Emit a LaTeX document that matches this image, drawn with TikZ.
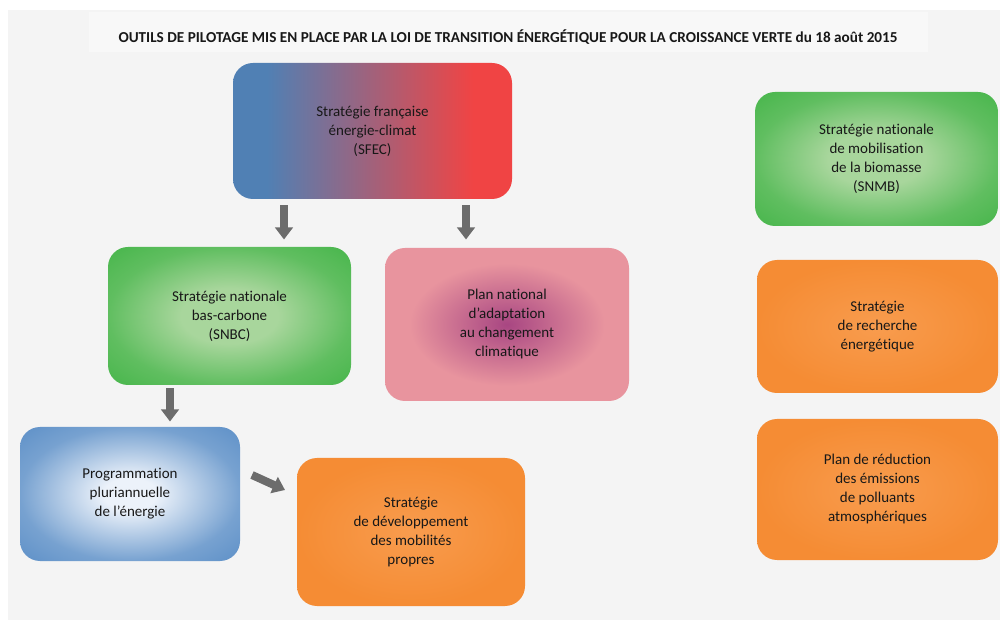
\documentclass[tikz,border=0pt]{standalone}
\usepackage{fontspec}
\setmainfont{Carlito}[Ligatures=NoCommon]
\usetikzlibrary{arrows.meta}

\definecolor{bggray}{RGB}{244,244,244}
\definecolor{txtdark}{RGB}{24,24,24}
\definecolor{arrowgray}{RGB}{108,108,108}
\definecolor{sfecblue}{RGB}{80,128,180}
\definecolor{sfecred}{RGB}{240,68,68}
\definecolor{greendark}{RGB}{72,182,76}
\definecolor{greenlight}{RGB}{168,214,156}
\definecolor{pinkedge}{RGB}{232,148,158}
\definecolor{pinkcore}{RGB}{168,70,130}
\definecolor{blueedge}{RGB}{95,145,200}
\definecolor{bluecore}{RGB}{236,242,250}
\definecolor{orangebox}{RGB}{245,140,52}
\definecolor{orangelight}{RGB}{248,156,78}

\pgfdeclarehorizontalshading{sfecgrad}{100bp}{color(0bp)=(sfecblue); color(31bp)=(sfecblue); color(68bp)=(sfecred); color(100bp)=(sfecred)}
\pgfdeclareradialshading{greenglow}{\pgfpointorigin}{color(0bp)=(greenlight); color(10bp)=(greenlight); color(25bp)=(greendark!75!greenlight); color(35bp)=(greendark); color(50bp)=(greendark)}
\pgfdeclareradialshading{pinkglow}{\pgfpointorigin}{color(0bp)=(pinkcore); color(8bp)=(pinkcore!60!pinkedge); color(20bp)=(pinkedge); color(50bp)=(pinkedge)}
\pgfdeclareradialshading{blueglow}{\pgfpointorigin}{color(0bp)=(bluecore); color(6bp)=(bluecore); color(25bp)=(blueedge!85!white); color(35bp)=(blueedge); color(50bp)=(blueedge)}
\pgfdeclareradialshading{orangeglow}{\pgfpointorigin}{color(0bp)=(orangelight); color(25bp)=(orangebox); color(50bp)=(orangebox)}

\tikzset{every picture/.style={line width=0.75pt}}
\tikzset{
  box/.style={rounded corners=15pt, align=center, inner sep=0pt, text=txtdark, font=\fontsize{11.25}{14.25}\selectfont},
  grayarrow/.style={draw=arrowgray, line width=6pt, -{Triangle[width=13pt,length=9pt]}},
}

\begin{document}
\begin{tikzpicture}[x=0.75pt,y=0.75pt,yscale=-1,xscale=1]
	\useasboundingbox (0,0) rectangle (1000,623);

	% background
	\fill [bggray] (8,10) rectangle (1000,620);
	\fill [white!40!bggray] (89,12) rectangle (928,52);

	\draw (508,37) node [text=txtdark, font=\bfseries\fontsize{11.4}{13}\selectfont] (title) {OUTILS DE PILOTAGE MIS EN PLACE PAR LA LOI DE TRANSITION ÉNERGÉTIQUE POUR LA CROISSANCE VERTE du 18 août 2015};

	% boxes
	\draw (372.5,131) node [box, shading=sfecgrad, minimum width=209.25pt, minimum height=102pt] (sfec) {Stratégie française\\énergie-climat\\(SFEC)};
	\draw (229.5,316) node [box, shading=greenglow, minimum width=182.25pt, minimum height=103.5pt] (snbc) {Stratégie nationale\\bas-carbone\\(SNBC)};
	\draw (507,324.5) node [box, shading=pinkglow, minimum width=183pt, minimum height=114.75pt] (pnacc) {Plan national\\d’adaptation\\au changement\\climatique};
	\draw (130,494) node [box, shading=blueglow, minimum width=165pt, minimum height=100.5pt] (ppe) {Programmation\\pluriannuelle\\de l’énergie};
	\draw (411,532) node [box, shading=orangeglow, minimum width=171pt, minimum height=111pt] (mobil) {Stratégie\\de développement\\des mobilités\\propres};
	\draw (876.5,159) node [box, shading=greenglow, minimum width=182.25pt, minimum height=100.5pt] (snmb) {Stratégie nationale\\de mobilisation\\de la biomasse\\(SNMB)};
	\draw (877.5,326.5) node [box, shading=orangeglow, minimum width=180.75pt, minimum height=99.75pt] (recherche) {Stratégie\\de recherche\\énergétique};
	\draw (877.5,489.5) node [box, shading=orangeglow, minimum width=180.75pt, minimum height=105.75pt] (polluants) {Plan de réduction\\des émissions\\de polluants\\atmosphériques};

	% arrows
	\coordinate (ca) at (284,0);
	\coordinate (cb) at (466,0);
	\coordinate (cc) at (170,0);
	\coordinate (cd) at (252,475);
	\coordinate (ce) at (285,490);
	\draw [grayarrow, shorten <=4.5pt, shorten >=5.25pt] (sfec.south -| ca) -- (snbc.north -| ca);
	\draw [grayarrow, shorten <=4.5pt, shorten >=6pt] (sfec.south -| cb) -- (pnacc.north -| cb);
	\draw [grayarrow, shorten <=2.25pt, shorten >=3.75pt] (snbc.south -| cc) -- (ppe.north -| cc);
	\draw [grayarrow] (cd) -- (ce);

\end{tikzpicture}
\end{document}
